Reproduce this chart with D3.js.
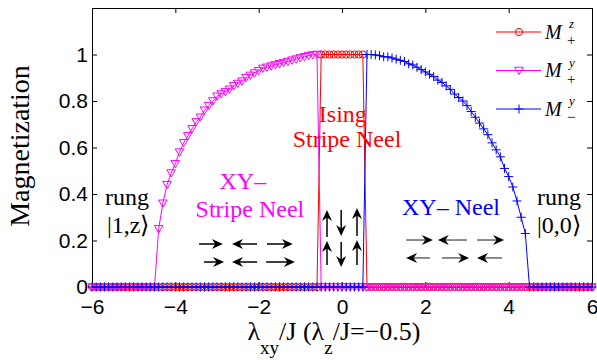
<!DOCTYPE html>
<html>
<head>
<meta charset="utf-8">
<script src="https://cdn.jsdelivr.net/npm/d3@7"></script>
<style>
  body { margin: 0; background: #fff; }
  svg { display: block; }
  .tick text { font-family: "Liberation Sans", Arial, sans-serif; font-size: 21px; fill: #000; }
  .serif { font-family: "Liberation Serif", "Times New Roman", serif; }
</style>
</head>
<body>
<div id="chart"></div>
<script>
// lambda_xy / J sampling grid
var lambdaXY = [
  -6,-5.9,-5.8,-5.7,-5.6,-5.5,-5.4,-5.3,-5.2,-5.1,
  -5,-4.9,-4.8,-4.7,-4.6,-4.5,-4.4,-4.3,-4.2,-4.1,
  -4,-3.9,-3.8,-3.7,-3.6,-3.5,-3.4,-3.3,-3.2,-3.1,
  -3,-2.9,-2.8,-2.7,-2.6,-2.5,-2.4,-2.3,-2.2,-2.1,
  -2,-1.9,-1.8,-1.7,-1.6,-1.5,-1.4,-1.3,-1.2,-1.1,
  -1,-0.9,-0.8,-0.7,-0.6,-0.5,-0.4,-0.3,-0.2,-0.1,
  0,0.1,0.2,0.3,0.4,0.5,0.6,0.7,0.8,0.9,
  1,1.1,1.2,1.3,1.4,1.5,1.6,1.7,1.8,1.9,
  2,2.1,2.2,2.3,2.4,2.5,2.6,2.7,2.8,2.9,
  3,3.1,3.2,3.3,3.4,3.5,3.6,3.7,3.8,3.9,
  4,4.1,4.2,4.3,4.4,4.5,4.6,4.7,4.8,4.9,
  5,5.1,5.2,5.3,5.4,5.5,5.6,5.7,5.8,5.9,
  6
];

// M+^z (red circles)
var mPlusZ = [
  0,0,0,0,0,0,0,0,0,0,
  0,0,0,0,0,0,0,0,0,0,
  0,0,0,0,0,0,0,0,0,0,
  0,0,0,0,0,0,0,0,0,0,
  0,0,0,0,0,0,0,0,0,0,
  0,0,0,0,0,1,1,1,1,1,
  1,1,1,1,1,1,0,0,0,0,
  0,0,0,0,0,0,0,0,0,0,
  0,0,0,0,0,0,0,0,0,0,
  0,0,0,0,0,0,0,0,0,0,
  0,0,0,0,0,0,0,0,0,0,
  0,0,0,0,0,0,0,0,0,0,
  0
];

// M+^y (magenta triangles)
var mPlusY = [
  0,0,0,0,0,0,0,0,0,0,
  0,0,0,0,0,0,0.25,0.36,0.44,0.49,
  0.53,0.58,0.62,0.65,0.68,0.71,0.73,0.76,0.78,0.80,
  0.82,0.83,0.84,0.85,0.865,0.875,0.885,0.90,0.91,0.92,
  0.93,0.94,0.945,0.95,0.955,0.96,0.965,0.97,0.975,0.98,
  0.985,0.99,0.995,0.998,1.0,0,0,0,0,0,
  0,0,0,0,0,0,0,0,0,0,
  0,0,0,0,0,0,0,0,0,0,
  0,0,0,0,0,0,0,0,0,0,
  0,0,0,0,0,0,0,0,0,0,
  0,0,0,0,0,0,0,0,0,0,
  0,0,0,0,0,0,0,0,0,0,
  0
];

// M-^y (blue plus)
var mMinusY = [
  0,0,0,0,0,0,0,0,0,0,
  0,0,0,0,0,0,0,0,0,0,
  0,0,0,0,0,0,0,0,0,0,
  0,0,0,0,0,0,0,0,0,0,
  0,0,0,0,0,0,0,0,0,0,
  0,0,0,0,0,0,0,0,0,0,
  0,0,0,0,0,0,1.0,1.0,0.998,0.995,
  0.99,0.99,0.985,0.98,0.975,0.97,0.96,0.955,0.945,0.935,
  0.925,0.915,0.905,0.89,0.88,0.865,0.85,0.83,0.815,0.80,
  0.78,0.755,0.73,0.705,0.68,0.655,0.62,0.59,0.56,0.51,
  0.475,0.43,0.37,0.30,0.23,0,0,0,0,0,
  0,0,0,0,0,0,0,0,0,0,
  0
];

var xTicks = [-6, -4, -2, 0, 2, 4, 6];
var xTickLabels = ["\u22126", "\u22124", "\u22122", "0", "2", "4", "6"];
var yTicks = [0, 0.2, 0.4, 0.6, 0.8, 1];
var yTickLabels = ["0", "0.2", "0.4", "0.6", "0.8", "1"];

var W = 597, H = 360;
var pLeft = 92, pRight = 592, pTop = 8, pBottom = 287;

var svg = d3.select('#chart')
  .append('svg')
  .attr('width', W)
  .attr('height', H);

var x = d3.scaleLinear().domain([-6, 6]).range([pLeft, pRight]);
var y = d3.scaleLinear().domain([0, 1.2]).range([pBottom, pTop]);

// axes (MATLAB box with inward ticks)
svg.append('g')
  .attr('transform', 'translate(0,' + pBottom + ')')
  .call(d3.axisBottom(x).tickValues(xTicks)
    .tickFormat(function(d, i) { return xTickLabels[i]; })
    .tickSizeInner(-5).tickSizeOuter(0).tickPadding(12));

svg.append('g')
  .attr('transform', 'translate(0,' + pTop + ')')
  .call(d3.axisTop(x).tickValues(xTicks).tickFormat('')
    .tickSizeInner(-5).tickSizeOuter(0));

svg.append('g')
  .attr('transform', 'translate(' + pLeft + ',0)')
  .call(d3.axisLeft(y).tickValues(yTicks)
    .tickFormat(function(d, i) { return yTickLabels[i]; })
    .tickSizeInner(-5).tickSizeOuter(0).tickPadding(4));

svg.append('g')
  .attr('transform', 'translate(' + pRight + ',0)')
  .call(d3.axisRight(y).tickValues(yTicks).tickFormat('')
    .tickSizeInner(-5).tickSizeOuter(0));

svg.selectAll('.domain, .tick line').attr('stroke', '#000').attr('stroke-width', 1);

// series
var markers = {
  circle: 'M3.6,0A3.6,3.6 0 1 1 -3.6,0A3.6,3.6 0 1 1 3.6,0Z',
  tri: 'M-4.3,-3.3L4.3,-3.3L0,4Z',
  plus: 'M-4.5,0H4.5M0,-4.5V4.5'
};

var series = [
  { values: mPlusZ, color: '#ff0000', marker: 'circle' },
  { values: mPlusY, color: '#ff00ff', marker: 'tri' },
  { values: mMinusY, color: '#0000ff', marker: 'plus' }
];

var line = d3.line()
  .x(function(d) { return x(d[0]); })
  .y(function(d) { return y(d[1]); });

series.forEach(function(s) {
  var pts = lambdaXY.map(function(v, i) { return [v, s.values[i]]; });
  var g = svg.append('g');
  g.append('path')
    .datum(pts)
    .attr('d', line)
    .attr('fill', 'none')
    .attr('stroke', s.color)
    .attr('stroke-width', 1);
  g.selectAll('path.mk')
    .data(pts)
    .enter().append('path')
    .attr('class', 'mk')
    .attr('d', markers[s.marker])
    .attr('transform', function(d) { return 'translate(' + x(d[0]) + ',' + y(d[1]) + ')'; })
    .attr('fill', 'none')
    .attr('stroke', s.color)
    .attr('stroke-width', 1);
});

// legend
var legend = [
  { sup: 'z', sub: '+', color: '#ff0000', marker: 'circle' },
  { sup: 'y', sub: '+', color: '#ff00ff', marker: 'tri' },
  { sup: 'y', sub: '\u2212', color: '#0000ff', marker: 'plus' }
];
legend.forEach(function(l, i) {
  var ly = 32 + i * 38.5;
  svg.append('line')
    .attr('x1', 496).attr('x2', 541).attr('y1', ly).attr('y2', ly)
    .attr('stroke', l.color).attr('stroke-width', 1);
  svg.append('path')
    .attr('d', markers[l.marker])
    .attr('transform', 'translate(519,' + ly + ')')
    .attr('fill', 'none').attr('stroke', l.color);
  svg.append('text').attr('class', 'serif')
    .attr('x', 545).attr('y', ly + 6.5)
    .attr('font-size', 20).attr('font-style', 'italic')
    .text('M');
  svg.append('text').attr('class', 'serif')
    .attr('x', 569).attr('y', ly - 4)
    .attr('font-size', 13).attr('font-style', 'italic')
    .text(l.sup);
  svg.append('text').attr('class', 'serif')
    .attr('x', 567).attr('y', ly + 13)
    .attr('font-size', 15)
    .text(l.sub);
});

// axis labels
svg.append('text').attr('class', 'serif')
  .attr('transform', 'translate(29,146) rotate(-90)')
  .attr('text-anchor', 'middle')
  .attr('font-size', 28)
  .text('Magnetization');

var xl = svg.append('text').attr('class', 'serif')
  .attr('x', 334).attr('y', 340)
  .attr('text-anchor', 'middle')
  .attr('font-size', 26);
xl.append('tspan').text('\u03bb');
xl.append('tspan').attr('dy', 14).attr('font-size', 19).text('xy');
xl.append('tspan').attr('dy', -14).text('/J (\u03bb');
xl.append('tspan').attr('dy', 14).attr('font-size', 19).text('z');
xl.append('tspan').attr('dy', -14).text('/J=\u22120.5)');

// phase annotations (data coords)
var notes = [
  { t: 'Ising', x: 0.02, y: 0.71, c: '#ff0000', a: 'middle' },
  { t: 'Stripe Neel', x: 0.12, y: 0.602, c: '#ff0000', a: 'middle' },
  { t: 'XY\u2013', x: -2.38, y: 0.42, c: '#ff00ff', a: 'middle' },
  { t: 'Stripe Neel', x: -2.21, y: 0.30, c: '#ff00ff', a: 'middle' },
  { t: 'XY\u2013 Neel', x: 1.44, y: 0.31, c: '#0000ff', a: 'start' },
  { t: 'rung', x: -5.69, y: 0.353, c: '#000', a: 'start' },
  { t: '|1,z\u27e9', x: -5.64, y: 0.232, c: '#000', a: 'start' },
  { t: 'rung', x: 4.68, y: 0.353, c: '#000', a: 'start' },
  { t: '|0,0\u27e9', x: 4.68, y: 0.232, c: '#000', a: 'start' }
];
svg.selectAll('text.note')
  .data(notes)
  .enter().append('text')
  .attr('class', 'note serif')
  .attr('x', function(d) { return x(d.x); })
  .attr('y', function(d) { return y(d.y); })
  .attr('text-anchor', function(d) { return d.a; })
  .attr('fill', function(d) { return d.c; })
  .attr('font-size', 24)
  .text(function(d) { return d.t; });

// spin arrows [x1, y1, x2, y2], head at end
var spinsStripe = [
  [-3.43, 0.185, -2.86, 0.185], [-2.04, 0.185, -2.64, 0.185], [-1.80, 0.185, -1.18, 0.185],
  [-3.31, 0.1075, -2.83, 0.1075], [-2.04, 0.1075, -2.64, 0.1075], [-1.82, 0.1075, -1.13, 0.1075]
];
var spinsIsing = [
  [-0.36, 0.215, -0.36, 0.331], [-0.02, 0.331, -0.02, 0.219], [0.36, 0.219, 0.36, 0.34],
  [-0.36, 0.095, -0.36, 0.198], [-0.02, 0.194, -0.02, 0.086], [0.36, 0.095, 0.36, 0.202]
];
var spinsNeel = [
  [1.54, 0.202, 2.18, 0.202], [3.00, 0.202, 2.30, 0.202], [3.24, 0.202, 3.89, 0.202],
  [2.11, 0.125, 1.54, 0.125], [2.40, 0.125, 3.05, 0.125], [3.84, 0.125, 3.24, 0.125]
];

function drawArrows(list, shaft) {
  list.forEach(function(a) {
    var x1 = x(a[0]), y1 = y(a[1]), x2 = x(a[2]), y2 = y(a[3]);
    var ang = Math.atan2(y2 - y1, x2 - x1);
    var len = Math.sqrt((x2 - x1) * (x2 - x1) + (y2 - y1) * (y2 - y1));
    var g = svg.append('g')
      .attr('transform', 'translate(' + x1 + ',' + y1 + ') rotate(' + (ang * 180 / Math.PI) + ')');
    g.append('line')
      .attr('x1', 0).attr('y1', 0).attr('x2', len - 6).attr('y2', 0)
      .attr('stroke', shaft).attr('stroke-width', 1.5);
    g.append('path')
      .attr('d', 'M' + len + ',0L' + (len - 11) + ',-5L' + (len - 7.5) + ',0L' + (len - 11) + ',5Z')
      .attr('fill', '#000');
  });
}
drawArrows(spinsStripe, '#000');
drawArrows(spinsIsing, '#000');
drawArrows(spinsNeel, '#666');
</script>
</body>
</html>
